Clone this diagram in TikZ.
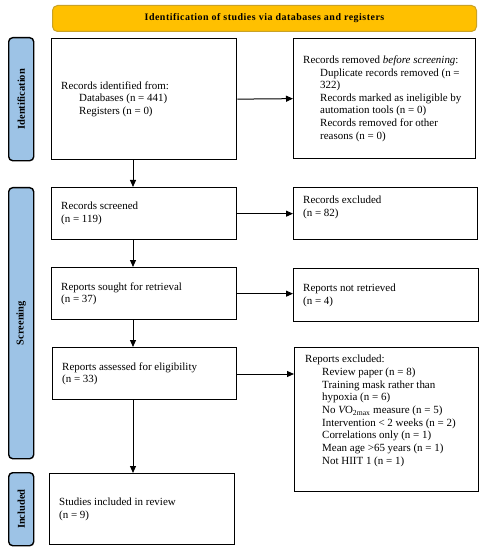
\documentclass[tikz,border=0pt]{standalone}
\usepackage{fontspec}
\setmainfont{Liberation Serif}
\newfontfamily\bannerfont[LetterSpace=5]{Liberation Serif}
\usetikzlibrary{arrows.meta}
\definecolor{bannerfill}{HTML}{FFC000}
\definecolor{bannerdraw}{HTML}{C9A227}
\definecolor{sidefill}{HTML}{9DC3E6}
\begin{document}
\begin{tikzpicture}[x=1bp,y=-1bp,
  box/.style={draw=black,line width=1.3bp,rectangle,anchor=north west,inner sep=0pt},
  side/.style={draw=black,line width=1.4bp,fill=sidefill,rounded corners=4bp,anchor=north west,inner sep=0pt},
  sidetext/.style={rotate=90,font=\fontsize{10.5}{12}\selectfont\bfseries},
  arr/.style={line width=1bp,-{Triangle[length=7bp,width=6bp]}},
  txt/.style={anchor=west,align=left,inner sep=0pt,font=\fontsize{11}{12.7}\selectfont}]
\useasboundingbox (0,0) rectangle (484,550);
% banner
\node[draw=bannerdraw,line width=1bp,fill=bannerfill,rounded corners=5bp,anchor=north west,minimum width=424bp,minimum height=26bp,inner sep=0pt,font=\fontsize{10}{11}\bannerfont\bfseries] (banner) at (52,5) {Identification of studies via databases and registers};
% side bars
\node[side,minimum width=25bp,minimum height=123bp] (sid) at (8,37) {};
\node[sidetext] (sidt) at (sid.center) {Identification};
\node[side,minimum width=25bp,minimum height=271bp] (sscr) at (8,187) {};
\node[sidetext] (sscrt) at (sscr.center) {Screening};
\node[side,minimum width=25bp,minimum height=73bp] (sinc) at (8,472) {};
\node[sidetext] (sinct) at (sinc.center) {Included};
% boxes
\node[box,minimum width=185bp,minimum height=121bp] (ident) at (51,38) {};
\node[box,minimum width=182bp,minimum height=120bp] (removed) at (293,38) {};
\node[box,minimum width=185bp,minimum height=52bp] (screened) at (51,187) {};
\node[box,minimum width=184bp,minimum height=52bp] (excluded) at (293,187) {};
\node[box,minimum width=185bp,minimum height=52bp] (sought) at (51,267) {};
\node[box,minimum width=185bp,minimum height=53bp] (notret) at (293,268) {};
\node[box,minimum width=184bp,minimum height=52bp] (assessed) at (52,347) {};
\node[box,minimum width=184bp,minimum height=144bp] (repexcl) at (294,347) {};
\node[box,minimum width=185bp,minimum height=71bp] (included) at (49,473) {};
% texts
\node[txt] (identt) at ([xshift=10bp]ident.west) {Records identified from:\\\hspace*{18bp}Databases (n = 441)\\\hspace*{18bp}Registers (n = 0)};
\node[txt] (removedt) at ([xshift=10bp]removed.west) {Records removed \textit{before screening}:\\\hspace*{17bp}Duplicate records removed (n =\\\hspace*{17bp}322)\\\hspace*{17bp}Records marked as ineligible by\\\hspace*{17bp}automation tools (n = 0)\\\hspace*{17bp}Records removed for other\\\hspace*{17bp}reasons (n = 0)};
\node[txt] (screenedt) at ([xshift=10bp]screened.west) {Records screened\\(n = 119)};
\node[txt] (excludedt) at ([xshift=10bp,yshift=6bp]excluded.west) {Records excluded\\(n = 82)};
\node[txt] (soughtt) at ([xshift=10bp]sought.west) {Reports sought for retrieval\\(n = 37)};
\node[txt] (notrett) at ([xshift=10bp]notret.west) {Reports not retrieved\\(n = 4)};
\node[txt] (assessedt) at ([xshift=10bp]assessed.west) {Reports assessed for eligibility\\(n = 33)};
\node[txt,anchor=north west] (repexclt) at (305,355) {Reports excluded:\\
\hspace*{17bp}Review paper (n = 8)\\
\hspace*{17bp}Training mask rather than\\
\hspace*{17bp}hypoxia (n = 6)\\
\hspace*{17bp}No {\itshape V}O\textsubscript{2max} measure (n = 5)\\
\hspace*{17bp}Intervention < 2 weeks (n = 2)\\
\hspace*{17bp}Correlations only (n = 1)\\
\hspace*{17bp}Mean age >65 years (n = 1)\\
\hspace*{17bp}Not HIIT 1 (n = 1)};
\node[txt] (includedt) at ([xshift=10bp]included.west) {Studies included in review\\(n = 9)};
% arrows
\draw[arr] (ident.east) -- (removed.west);
\draw[arr] (ident.south -| 133,0) -- (screened.north -| 133,0);
\draw[arr] (screened.east) -- (excluded.west |- screened.east);
\draw[arr] (screened.south -| 133,0) -- (sought.north -| 133,0);
\draw[arr] (sought.east) -- (notret.west |- sought.east);
\draw[arr] (sought.south -| 133,0) -- (assessed.north -| 133,0);
\draw[arr] (assessed.east |- 0,374) -- (repexcl.west |- 0,374);
\draw[arr] (assessed.south -| 133,0) -- (included.north -| 133,0);
\end{tikzpicture}
\end{document}
